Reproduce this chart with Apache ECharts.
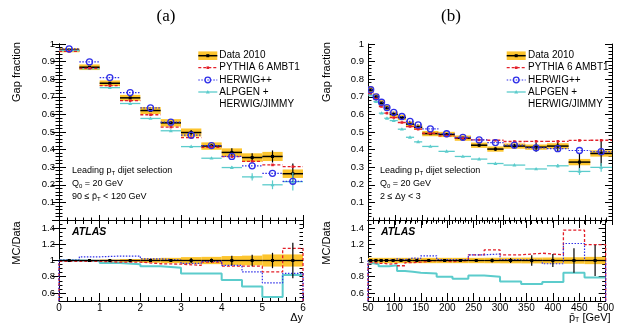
<!DOCTYPE html>
<html>
<head>
<meta charset="utf-8">
<script src="https://cdn.jsdelivr.net/npm/echarts@6/dist/echarts.min.js"></script>
<style>html,body{margin:0;padding:0;background:#fff}#chart{width:617px;height:323px}</style>
</head>
<body>
<div id="chart"></div>
<script>
// panel (a): gap fraction vs delta y
var dyEdges = [0,0.5,1,1.5,2,2.5,3,3.5,4,4.5,5,5.5,6];
var dataA   = [0.965,0.868,0.777,0.694,0.622,0.552,0.497,0.420,0.384,0.355,0.361,0.263];
var sysTopA = [0.012,0.016,0.016,0.017,0.020,0.021,0.023,0.021,0.023,0.024,0.026,0.024];
var statA   = [0.003,0.004,0.006,0.008,0.010,0.015,0.030,0.025,0.060,0.070,0.095,0.220]; // relative
var bandA   = [0.006,0.008,0.012,0.018,0.028,0.033,0.042,0.045,0.055,0.060,0.075,0.075]; // relative
var pythiaA = [0.958,0.862,0.763,0.678,0.598,0.528,0.468,0.413,0.360,0.333,0.313,0.303];
var herwigA = [0.972,0.898,0.809,0.724,0.637,0.556,0.482,0.423,0.361,0.308,0.265,0.220];
var alpgenA = [0.962,0.860,0.752,0.662,0.577,0.507,0.417,0.351,0.298,0.245,0.200,0.218];
var alpErrA = [0,0,0,0,0,0,0.003,0.004,0.008,0.020,0.025,0.050];
var pythiaRA = [0.99,0.99,0.98,0.98,0.96,0.955,0.94,0.98,0.93,0.93,0.86,1.15];
var herwigRA = [1.005,1.045,1.055,1.055,1.02,1.005,0.965,0.99,0.94,0.86,0.725,0.84];
var alpgenRA = [1.0,0.995,0.97,0.955,0.93,0.91,0.84,0.84,0.76,0.68,0.55,0.82];

// panel (b): gap fraction vs mean pT
var ptEdges = [50,60,70,80,90,105,120,135,150,180,210,240,270,300,340,380,420,460,500];
var dataB   = [0.739,0.700,0.665,0.637,0.600,0.582,0.545,0.527,0.491,0.486,0.465,0.425,0.403,0.420,0.414,0.420,0.329,0.378];
var sysTopB = [0.019,0.018,0.017,0.016,0.016,0.015,0.015,0.015,0.015,0.015,0.015,0.015,0.015,0.015,0.015,0.016,0.018,0.018];
var statB   = [0.005,0.006,0.007,0.008,0.008,0.009,0.010,0.012,0.012,0.015,0.015,0.020,0.025,0.030,0.065,0.080,0.150,0.190];
var bandB   = [0.033,0.033,0.033,0.033,0.033,0.033,0.033,0.033,0.033,0.033,0.033,0.033,0.034,0.035,0.036,0.037,0.040,0.045];
var pythiaB = [0.720,0.688,0.645,0.607,0.582,0.554,0.531,0.516,0.493,0.478,0.465,0.455,0.453,0.446,0.447,0.447,0.452,0.453];
var herwigB = [0.740,0.700,0.669,0.639,0.612,0.588,0.560,0.540,0.518,0.490,0.470,0.455,0.440,0.425,0.410,0.405,0.395,0.388];
var alpgenB = [0.710,0.673,0.607,0.578,0.565,0.516,0.470,0.444,0.418,0.390,0.361,0.346,0.321,0.312,0.290,0.308,0.276,0.299];
var alpErrB = [0,0,0,0,0,0,0,0,0,0,0,0,0,0,0.006,0.010,0.020,0.025];
var pythiaRB = [0.975,0.965,0.965,0.955,0.965,0.935,0.975,0.98,1.0,0.985,1.0,1.07,1.13,1.07,1.09,1.07,1.375,1.195];
var herwigRB = [1.0,1.0,1.005,1.003,1.02,1.01,1.03,1.025,1.058,1.01,1.01,1.07,1.08,1.01,1.0,0.96,1.21,1.0];
var alpgenRB = [0.965,0.955,0.93,0.93,0.94,0.87,0.86,0.85,0.84,0.80,0.775,0.815,0.80,0.74,0.71,0.735,0.85,0.79];

var ratioTicks = [0.6,0.8,1,1.2,1.4];
var dyTicks = [0,1,2,3,4,5,6];
var ptTicks = [50,100,150,200,250,300,350,400,450,500];

var ORANGE = '#fdc52e', RED = '#e3202a', BLUE = '#2f2fe8', CYAN = '#5ccccc';
var FONT = 'Liberation Sans';

var myChart = echarts.init(document.getElementById('chart'));

function items(edges, vals, err, box, rel) {
	return vals.map(function(v, i){
		var e = err ? err[i] : 0, b = box ? box[i] : 0;
		if (rel) { e = e * v; }
		return [edges[i], edges[i+1], v, e, b];
	});
}

function marker(kind, p, st) {
	if (kind == 'square') return {type:'rect', shape:{x:p[0]-st.ms/2, y:p[1]-st.ms/2, width:st.ms, height:st.ms}, style:{fill:st.color}};
	if (kind == 'circle') return {type:'circle', shape:{cx:p[0], cy:p[1], r:st.ms}, style:{fill:null, stroke:st.color, lineWidth:1.3}};
	if (kind == 'tri') return {type:'polygon', shape:{points:[[p[0],p[1]-st.ms],[p[0]-st.ms,p[1]+st.ms*0.7],[p[0]+st.ms,p[1]+st.ms*0.7]]}, style:{fill:st.color}};
	return null;
}

function binSeries(xi, yi, data, st) {
	return {
		type:'custom', xAxisIndex:xi, yAxisIndex:yi, clip:true, silent:true,
		encode:{x:[0,1], y:[2]}, data:data, z: st.z || 3,
		renderItem:function(params, api){
			var x0 = api.value(0), x1 = api.value(1), y = api.value(2), e = api.value(3), b = api.value(4);
			var xc = (x0 + x1) / 2;
			var pL = api.coord([x0, y]), pR = api.coord([x1, y]), pC = api.coord([xc, y]);
			var ch = [];
			if (st.box && b > 0) {
				var a1 = api.coord([x0, y + b]), a2 = api.coord([x1, y - b]);
				ch.push({type:'rect', shape:{x:a1[0], y:a1[1], width:a2[0]-a1[0], height:a2[1]-a1[1]}, style:{fill:st.box}});
			}
			if (st.line) {
				ch.push({type:'line', shape:{x1:pL[0], y1:pL[1], x2:pR[0], y2:pR[1]}, style:{stroke:st.color, lineWidth:st.lw, lineDash:st.dash || null}});
			}
			if (st.err && e > 0) {
				var h = api.coord([xc, y + e]), l = api.coord([xc, y - e]);
				ch.push({type:'line', shape:{x1:h[0], y1:h[1], x2:l[0], y2:l[1]}, style:{stroke:st.color, lineWidth:st.elw || 1.2}});
			}
			if (st.mk) ch.push(marker(st.mk, pC, st));
			return {type:'group', children:ch};
		}
	};
}

function stepSeries(xi, yi, edges, r, color, dash, lw, base) {
	var pts = [];
	if (base != null) pts.push([edges[0], base]);
	r.forEach(function(v, i){ pts.push([edges[i], v]); });
	pts.push([edges[edges.length-1], r[r.length-1]]);
	if (base != null) pts.push([edges[edges.length-1], base]);
	return {type:'line', xAxisIndex:xi, yAxisIndex:yi, step:'end', data:pts, showSymbol:false, silent:true,
		lineStyle:{color:color, width:lw, type:dash || 'solid'}, z:3, animation:false};
}

function minorList(min, max, step) {
	var out = [];
	for (var v = min; v <= max + 1e-9; v += step) out.push(+v.toFixed(3));
	return out;
}

var black = {color:'#000'};
function xAxes(grid, min, max, interval, ticks, len, showLabel) {
	var main = {type:'value', gridIndex:grid, min:min, max:max, interval:interval, position:'bottom',
		axisLine:{lineStyle:{color:'#000', width:1}},
		axisTick:{inside:true, length:len, lineStyle:black},
		minorTick:{show:true, splitNumber:5, length:len/2, lineStyle:black},
		splitLine:{show:false},
		axisLabel:{show:showLabel, color:'#000', fontSize:10, fontFamily:FONT, margin:2,
			customValues:ticks}};
	var mirror = echarts.util.merge({}, main);
	mirror.position = 'top';
	mirror.axisLabel = {show:false};
	return [main, mirror];
}

var yTop = function(grid){
	var fmt = function(v){ return v < 0.05 ? '' : String(+(+v).toFixed(2)); };
	var main = {type:'value', gridIndex:grid, min:0, max:1, interval:0.1, position:'left',
		axisLine:{lineStyle:{color:'#000'}},
		axisTick:{inside:true, length:7, lineStyle:black},
		minorTick:{show:true, splitNumber:5, length:3.5, lineStyle:black},
		splitLine:{show:false},
		axisLabel:{color:'#000', fontSize:9.5, fontFamily:FONT, margin:4, formatter:fmt}};
	var mirror = echarts.util.merge({}, main);
	mirror.position = 'right';
	mirror.axisLabel = {show:false};
	return [main, mirror];
};

var yRatio = function(grid){
	var base = {type:'value', gridIndex:grid, min:0.5, max:1.5, splitLine:{show:false}};
	var mins = minorList(0.5, 1.5, 0.05);
	return [
		echarts.util.merge({position:'left', axisLine:{lineStyle:{color:'#000'}},
			axisTick:{inside:true, length:7, lineStyle:black, customValues:ratioTicks},
			axisLabel:{color:'#000', fontSize:9.5, fontFamily:FONT, margin:4, customValues:ratioTicks}}, base),
		echarts.util.merge({position:'right', axisLine:{lineStyle:{color:'#000'}},
			axisTick:{inside:true, length:7, lineStyle:black, customValues:ratioTicks},
			axisLabel:{show:false}}, base),
		echarts.util.merge({position:'left', axisLine:{show:false},
			axisTick:{inside:true, length:3.5, lineStyle:black, customValues:mins},
			axisLabel:{show:false}}, base),
		echarts.util.merge({position:'right', axisLine:{show:false},
			axisTick:{inside:true, length:3.5, lineStyle:black, customValues:mins},
			axisLabel:{show:false}}, base)
	];
};

var xAxis = [].concat(
	xAxes(0, 0, 6, 1, dyTicks, 5, false),
	xAxes(1, 0, 6, 1, dyTicks, 8, true),
	xAxes(2, 50, 500, 50, ptTicks, 5, false),
	xAxes(3, 50, 500, 50, ptTicks, 8, true)
);
var yAxis = [].concat(yTop(0), yRatio(1), yTop(2), yRatio(3));

function panelSeries(xT, yT, xR, yR, edges, d, sysTop, stat, band, py, hw, al, alErr, pyR, hwR, alR) {
	var ones = edges.slice(1).map(function(){ return 1; });
	return [
		binSeries(xT, yT, items(edges, d, null, sysTop), {box:ORANGE, z:2}),
		binSeries(xT, yT, items(edges, d, stat, null, true), {line:true, color:'#000', lw:1.5, err:true, mk:'square', ms:3}),
		binSeries(xT, yT, items(edges, al, alErr), {line:true, color:CYAN, lw:1.3, err:true, mk:'tri', ms:2}),
		binSeries(xT, yT, items(edges, py), {line:true, color:RED, lw:1.3, dash:[3,2], mk:'square', ms:2.6}),
		binSeries(xT, yT, items(edges, hw), {line:true, color:BLUE, lw:1.2, dash:[1.5,1.5], mk:'circle', ms:3}),
		binSeries(xR, yR, items(edges, ones, null, band), {box:ORANGE, z:2}),
		stepSeries(xR, yR, edges, alR, CYAN, 'solid', 2, null),
		stepSeries(xR, yR, edges, pyR, RED, [3,2], 1.3, 0.5),
		stepSeries(xR, yR, edges, hwR, BLUE, [1.5,1.5], 1.2, 0.5),
		binSeries(xR, yR, items(edges, ones, stat), {line:true, color:'#000', lw:1.3, err:true, mk:'square', ms:3, z:4})
	];
}

var series = [].concat(
	panelSeries(0, 0, 2, 2, dyEdges, dataA, sysTopA, statA, bandA, pythiaA, herwigA, alpgenA, alpErrA, pythiaRA, herwigRA, alpgenRA),
	panelSeries(4, 6, 6, 8, ptEdges, dataB, sysTopB, statB, bandB, pythiaB, herwigB, alpgenB, alpErrB, pythiaRB, herwigRB, alpgenRB)
);

function txt(x, y, text, opt) {
	opt = opt || {};
	return {type:'text', x:x, y:y, rotation:opt.rot || 0, silent:true, z:10,
		style:echarts.util.merge({text:text, fill:'#000', fontSize:10, fontFamily:FONT, align:'left', verticalAlign:'middle'}, opt.style || {}, true)};
}
var richSub = {
	a:{fontSize:9, fontFamily:FONT, lineHeight:11, fill:'#000'},
	s:{fontSize:6, fontFamily:FONT, lineHeight:5, verticalAlign:'bottom', fill:'#000'}
};

function legend(x0, tx) {
	var yy = [55.7, 67.7, 80, 92, 104];
	var xm = x0 + 9.5, x1 = x0 + 19;
	return [
		{type:'rect', shape:{x:x0, y:yy[0]-4.3, width:19, height:8.6}, style:{fill:ORANGE}, silent:true},
		{type:'line', shape:{x1:x0, y1:yy[0], x2:x1, y2:yy[0]}, style:{stroke:'#000', lineWidth:1.5}, silent:true},
		{type:'rect', shape:{x:xm-1.5, y:yy[0]-1.5, width:3, height:3}, style:{fill:'#000'}, silent:true},
		{type:'line', shape:{x1:x0, y1:yy[1], x2:x1, y2:yy[1]}, style:{stroke:RED, lineWidth:1.3, lineDash:[3,2]}, silent:true},
		{type:'rect', shape:{x:xm-1.3, y:yy[1]-1.3, width:2.6, height:2.6}, style:{fill:RED}, silent:true},
		{type:'line', shape:{x1:x0, y1:yy[2], x2:x1, y2:yy[2]}, style:{stroke:BLUE, lineWidth:1.2, lineDash:[1.5,1.5]}, silent:true},
		{type:'circle', shape:{cx:xm, cy:yy[2], r:2.8}, style:{fill:null, stroke:BLUE, lineWidth:1.3}, silent:true},
		{type:'line', shape:{x1:x0, y1:yy[3], x2:x1, y2:yy[3]}, style:{stroke:CYAN, lineWidth:1.3}, silent:true},
		{type:'polygon', shape:{points:[[xm,yy[3]-2],[xm-2,yy[3]+1.4],[xm+2,yy[3]+1.4]]}, style:{fill:CYAN}, silent:true},
		txt(tx, yy[0], 'Data 2010'),
		txt(tx, yy[1], 'PYTHIA 6 AMBT1'),
		txt(tx, yy[2], 'HERWIG++'),
		txt(tx, yy[3], 'ALPGEN +'),
		txt(tx, yy[4], 'HERWIG/JIMMY')
	];
}

function notes(x, third) {
	return [
		txt(x, 171, '{a|Leading p}{s|T}{a| dijet selection}', {style:{rich:richSub}}),
		txt(x, 183.5, '{a|Q}{s|0}{a| = 20 GeV}', {style:{rich:richSub}}),
		txt(x, 196.5, third, {style:{rich:richSub}})
	];
}

var serif = {fontSize:17, fontFamily:'Liberation Serif', align:'center'};
var title = {fontSize:11, align:'center'};
var atlas = {fontSize:10.5, fontStyle:'italic', fontWeight:'bold'};
var richAxis = {
	a:{fontSize:11, fontFamily:FONT, lineHeight:12, fill:'#000'},
	s:{fontSize:7, fontFamily:FONT, lineHeight:6, verticalAlign:'bottom', fill:'#000'}
};

var graphic = [].concat(
	txt(166, 17, '(a)', {style:serif}),
	txt(451, 17, '(b)', {style:serif}),
	txt(17, 72, 'Gap fraction', {rot:Math.PI/2, style:title}),
	txt(327, 72, 'Gap fraction', {rot:Math.PI/2, style:title}),
	txt(17, 243, 'MC/Data', {rot:Math.PI/2, style:title}),
	txt(327, 243, 'MC/Data', {rot:Math.PI/2, style:title}),
	txt(303, 318, '\u0394y', {style:{fontSize:11, align:'right'}}),
	txt(569, 318, '{a|p\u0304}{s|T}{a| [GeV]}', {style:{rich:richAxis}}),
	txt(72, 232, 'ATLAS', {style:atlas}),
	txt(381, 232, 'ATLAS', {style:atlas}),
	legend(198.3, 219.3),
	legend(506.7, 528),
	notes(72, '{a|90 \u2264 p\u0304}{s|T}{a| < 120 GeV}'),
	notes(380, '{a|2 \u2264 \u0394y < 3}')
);

var option = {
	animation:false,
	backgroundColor:'#fff',
	grid:[
		{left:59, top:44, width:244, height:176},
		{left:59, top:220, width:244, height:81},
		{left:368, top:44, width:244, height:176},
		{left:368, top:220, width:244, height:81}
	],
	xAxis:xAxis,
	yAxis:yAxis,
	series:series,
	graphic:graphic
};
myChart.setOption(option);
</script>
</body>
</html>
